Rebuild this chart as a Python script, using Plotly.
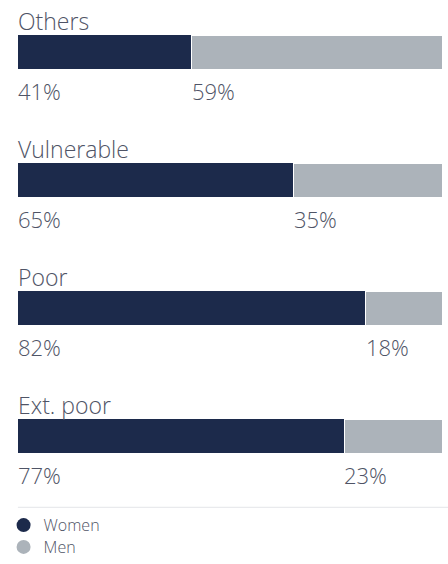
import plotly.graph_objects as go

categories = ["Ext. poor", "Poor", "Vulnerable", "Others"]
women = [77, 82, 65, 41]
men = [23, 18, 35, 59]
series_names = ["Women", "Men"]

NAVY = "#1c2a4b"
GREY = "#acb3ba"
TEXT = "#4f5466"
FONT = "Open Sans"

ypos = list(range(len(categories)))

fig = go.Figure()
fig.add_trace(go.Bar(y=ypos, x=women, orientation="h", marker=dict(color=NAVY, line=dict(width=0)),
                     width=0.265, showlegend=False, hoverinfo="skip"))
fig.add_trace(go.Bar(y=ypos, x=men, orientation="h", marker=dict(color=GREY, line=dict(width=1, color="white")),
                     width=0.265, showlegend=False, hoverinfo="skip"))

for name, col, lg in zip(series_names, [NAVY, GREY], ["legend", "legend2"]):
    fig.add_trace(go.Scatter(x=[None], y=[None], mode="markers", name=name, legend=lg,
                             marker=dict(color=col, size=14, symbol="circle")))

hfont = dict(size=23, color=TEXT, family=FONT, weight=300)
pfont = dict(size=22, color=TEXT, family=FONT, weight=300)
for i, cat in enumerate(categories):
    fig.add_annotation(x=0, y=ypos[i], text=cat, showarrow=False, xanchor="left", yanchor="middle",
                       yshift=31, xshift=-2, font=hfont)
    fig.add_annotation(x=0, y=ypos[i], text=f"{women[i]}%", showarrow=False, xanchor="left", yanchor="middle",
                       yshift=-39, xshift=-2, font=pfont)
    fig.add_annotation(x=women[i], y=ypos[i], text=f"{men[i]}%", showarrow=False, xanchor="left", yanchor="middle",
                       yshift=-39, xshift=-2, font=pfont)

fig.add_shape(type="line", xref="paper", yref="paper", x0=0.04, x1=1, y0=1 - 510 / 564, y1=1 - 510 / 564,
              line=dict(color="#e3e5e8", width=1))

lfont = dict(size=16, color=TEXT, family=FONT, weight=300)
fig.update_layout(
    width=448, height=564, margin=dict(l=0, r=0, t=0, b=0),
    barmode="stack", paper_bgcolor="white", plot_bgcolor="white",
    xaxis=dict(range=[-18 / 4.24, 430 / 4.24], visible=False, fixedrange=True),
    yaxis=dict(range=[-0.975, 3.408], visible=False, fixedrange=True),
    legend=dict(x=0.008, y=1 - 528 / 564, xanchor="left", yanchor="middle", bgcolor="rgba(0,0,0,0)",
                font=lfont, itemwidth=30),
    legend2=dict(x=0.008, y=1 - 550 / 564, xanchor="left", yanchor="middle", bgcolor="rgba(0,0,0,0)",
                 font=lfont, itemwidth=30),
    font=dict(family=FONT, color=TEXT),
)

fig.write_html("out.html")
